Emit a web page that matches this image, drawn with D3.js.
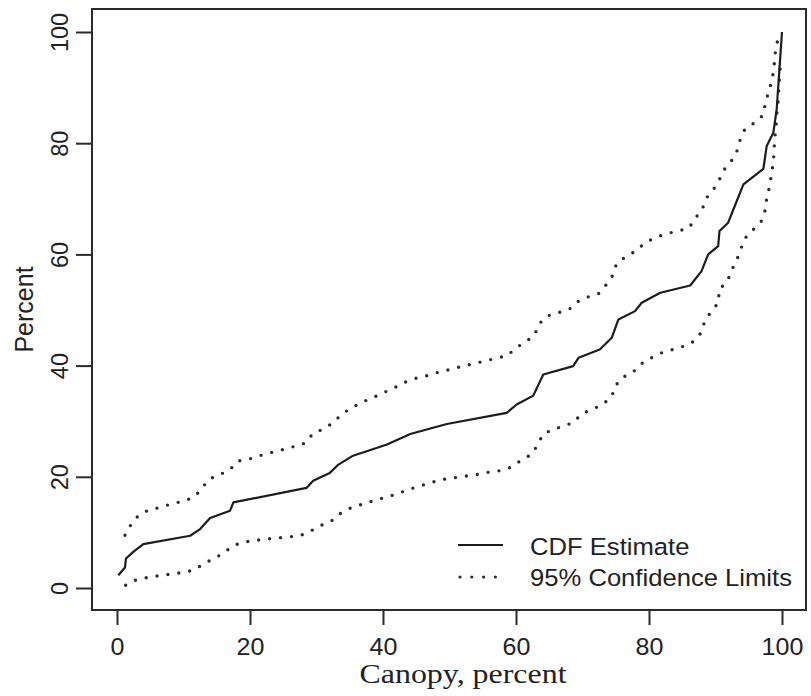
<!DOCTYPE html>
<html>
<head>
<meta charset="utf-8">
<script src="https://cdn.jsdelivr.net/npm/d3@7"></script>
<style>
  html, body { margin: 0; padding: 0; background: #fff; }
  svg { display: block; }
</style>
</head>
<body>
<script>
// ---- data ----
const xTicks = [0, 20, 40, 60, 80, 100];
const yTicks = [0, 20, 40, 60, 80, 100];
const xTitle = "Canopy, percent";
const yTitle = "Percent";
const legendLabels = ["CDF Estimate", "95% Confidence Limits"];

const cdfEstimate = [
  [0.2,2.3],[1.2,3.7],[1.35,5.3],[2.45,6.5],[3.95,7.9],[11.0,9.4],[12.5,10.6],
  [14.0,12.6],[17.0,13.9],[17.5,15.4],[28.5,18.0],[29.5,19.3],[32.0,20.7],
  [33.3,22.2],[35.5,23.8],[40.6,25.8],[44.1,27.7],[49.6,29.5],[58.6,31.5],
  [60.1,33.0],[62.6,34.6],[64.1,38.4],[68.6,39.9],[69.4,41.4],[72.6,42.9],
  [74.4,45.0],[75.4,48.3],[77.9,49.8],[78.9,51.3],[81.7,53.1],[86.2,54.4],
  [87.9,57.0],[88.9,60.0],[90.4,61.5],[90.6,64.2],[91.9,65.7],[92.9,68.7],
  [94.2,72.6],[97.2,75.4],[97.7,79.5],[98.7,81.9],[99.2,86.1],[99.7,94.8],[100.0,100.0]
];

const upperLimit = [
  [1.2,9.5],[2.1,11.4],[3.2,13.0],[4.7,14.0],[6.5,14.5],[8.1,15.1],[9.9,15.6],
  [11.5,16.3],[12.7,17.7],[13.7,19.5],[15.5,20.4],[17.0,21.3],[18.1,22.8],
  [19.9,23.2],[21.5,23.8],[23.3,24.4],[25.0,24.9],[26.8,25.5],[28.4,26.1],
  [29.4,27.7],[31.0,28.6],[32.5,29.7],[33.8,31.3],[35.3,32.4],[36.8,33.4],
  [38.4,34.2],[40.0,35.1],[41.7,36.0],[43.3,37.0],[44.9,37.7],[46.7,38.2],
  [48.3,38.8],[50.1,39.3],[51.7,39.8],[53.5,40.3],[55.2,40.8],[57.0,41.3],
  [58.7,41.8],[60.0,43.2],[61.5,44.3],[62.8,45.5],[63.4,47.4],[64.6,48.9],
  [66.3,49.5],[68.0,50.1],[69.1,51.4],[70.7,52.3],[72.5,53.0],[73.6,54.6],
  [74.6,56.3],[75.1,58.3],[76.5,59.6],[78.0,60.6],[79.3,62.0],[80.9,63.0],
  [82.6,63.7],[84.3,64.2],[86.0,64.7],[86.9,66.4],[88.0,68.1],[88.6,70.1],
  [89.7,71.7],[90.5,73.2],[91.2,75.1],[92.3,76.6],[93.2,78.5],[93.7,80.6],
  [94.4,82.5],[95.9,83.7],[97.2,85.1],[97.5,87.2],[98.0,89.3],[98.5,91.4],
  [98.8,93.5],[98.9,95.6],[99.2,97.8],[99.7,99.9]
];

const lowerLimit = [
  [1.3,0.5],[2.8,1.4],[4.6,1.9],[6.3,2.2],[8.1,2.5],[9.9,2.8],[11.5,3.2],
  [13.0,4.3],[14.5,5.3],[16.0,6.2],[17.3,7.5],[18.8,8.2],[20.5,8.5],[22.4,8.8],
  [24.1,9.0],[25.9,9.2],[27.5,9.4],[29.2,10.3],[30.6,11.2],[32.3,12.1],
  [33.7,13.5],[35.3,14.5],[37.0,15.1],[38.6,15.7],[40.3,16.3],[42.1,16.9],
  [43.8,17.7],[45.4,18.3],[47.1,18.9],[48.8,19.5],[50.6,19.8],[52.3,20.1],
  [54.1,20.4],[55.8,20.8],[57.6,21.1],[59.2,21.7],[60.7,22.9],[62.3,24.0],
  [63.3,25.8],[64.0,27.6],[65.5,28.5],[67.1,29.1],[68.7,29.8],[69.8,31.3],
  [71.4,32.1],[73.0,33.0],[74.4,34.4],[74.9,36.3],[76.0,37.9],[77.5,38.7],
  [78.8,40.3],[80.2,41.3],[81.9,42.3],[83.6,42.9],[85.3,43.5],[86.8,44.4],
  [87.9,46.0],[88.4,48.1],[89.4,49.8],[90.5,51.4],[90.5,53.6],[91.8,55.2],
  [92.4,57.1],[93.2,59.0],[93.8,61.0],[94.5,63.0],[95.7,64.5],[97.0,66.1],
  [97.5,68.1],[97.7,70.2],[98.2,72.5],[98.4,74.4],[98.7,76.5],[98.8,78.6],
  [98.9,80.8],[99.1,82.9],[99.2,85.1],[99.4,87.2],[99.5,89.4],[99.8,95.0]
];

// ---- layout ----
const W = 811, H = 696;
const box = { left: 92, right: 806, top: 9, bottom: 610 };
const ink = "#2b2b2b";
const sx = 1.09; // horizontal text stretch seen in the reference

const x = d3.scaleLinear().domain([0, 100]).range([117, 782]);
const y = d3.scaleLinear().domain([0, 100]).range([588, 32]);

const svg = d3.select("body").append("svg")
  .attr("width", W).attr("height", H)
  .attr("font-family", "'Liberation Sans', Arial, Helvetica, sans-serif");

// plot frame
svg.append("rect")
  .attr("x", box.left).attr("y", box.top)
  .attr("width", box.right - box.left).attr("height", box.bottom - box.top)
  .attr("fill", "none").attr("stroke", ink).attr("stroke-width", 2);

// x axis
const xAxis = d3.axisBottom(x).tickValues(xTicks).tickSize(15).tickPadding(6).tickFormat(d3.format("d"));
const gx = svg.append("g").attr("transform", `translate(0,${box.bottom})`).call(xAxis);
gx.select(".domain").remove();
gx.selectAll(".tick line").attr("stroke", ink).attr("stroke-width", 2);
gx.selectAll(".tick text")
  .attr("fill", "#222").attr("font-size", 23).attr("dy", null)
  .attr("y", 45)
  .attr("transform", function() { return `scale(${sx},1)`; })
  .attr("x", 0);

// y axis
const yAxis = d3.axisLeft(y).tickValues(yTicks).tickSize(16).tickFormat(d3.format("d"));
const gy = svg.append("g").attr("transform", `translate(${box.left},0)`).call(yAxis);
gy.select(".domain").remove();
gy.selectAll(".tick line").attr("stroke", ink).attr("stroke-width", 2);
gy.selectAll(".tick text")
  .attr("fill", "#222").attr("font-size", 23.5)
  .attr("x", null).attr("dy", null).attr("y", null)
  .attr("text-anchor", "middle")
  .attr("transform", "translate(-24,0) rotate(-90)");

// axis titles
svg.append("text")
  .attr("transform", `translate(463,683)`)
  .attr("text-anchor", "middle")
  .attr("font-family", "'Liberation Serif', 'Times New Roman', serif")
  .attr("font-size", 27).attr("fill", "#222")
  .attr("textLength", 207).attr("lengthAdjust", "spacingAndGlyphs")
  .text(xTitle);

svg.append("text")
  .attr("transform", `translate(33,${(box.top + box.bottom) / 2}) rotate(-90)`)
  .attr("text-anchor", "middle")
  .attr("font-size", 25).attr("fill", "#222")
  .text(yTitle);

// series
const line = d3.line().x(d => x(d[0])).y(d => y(d[1]));

svg.append("path").datum(lowerLimit)
  .attr("d", line).attr("fill", "none")
  .attr("stroke", ink).attr("stroke-width", 3.4)
  .attr("stroke-linecap", "round").attr("stroke-dasharray", "0 11");

svg.append("path").datum(upperLimit)
  .attr("d", line).attr("fill", "none")
  .attr("stroke", ink).attr("stroke-width", 3.4)
  .attr("stroke-linecap", "round").attr("stroke-dasharray", "0 11");

svg.append("path").datum(cdfEstimate)
  .attr("d", line).attr("fill", "none")
  .attr("stroke", "#1c1c1c").attr("stroke-width", 2.2)
  .attr("stroke-linejoin", "round");

// legend
const lg = svg.append("g");
lg.append("line")
  .attr("x1", 458).attr("x2", 503).attr("y1", 545).attr("y2", 545)
  .attr("stroke", "#1c1c1c").attr("stroke-width", 2.2);
lg.append("line")
  .attr("x1", 460).attr("x2", 496).attr("y1", 577).attr("y2", 577)
  .attr("stroke", ink).attr("stroke-width", 3.2)
  .attr("stroke-linecap", "round").attr("stroke-dasharray", "0 11.8");
lg.selectAll("text.leg").data(legendLabels).enter().append("text")
  .attr("class", "leg")
  .attr("transform", (d, i) => `translate(530,${555 + i * 31}) scale(${sx},1)`)
  .attr("font-size", 23.5).attr("fill", "#222")
  .text(d => d);
</script>
</body>
</html>
